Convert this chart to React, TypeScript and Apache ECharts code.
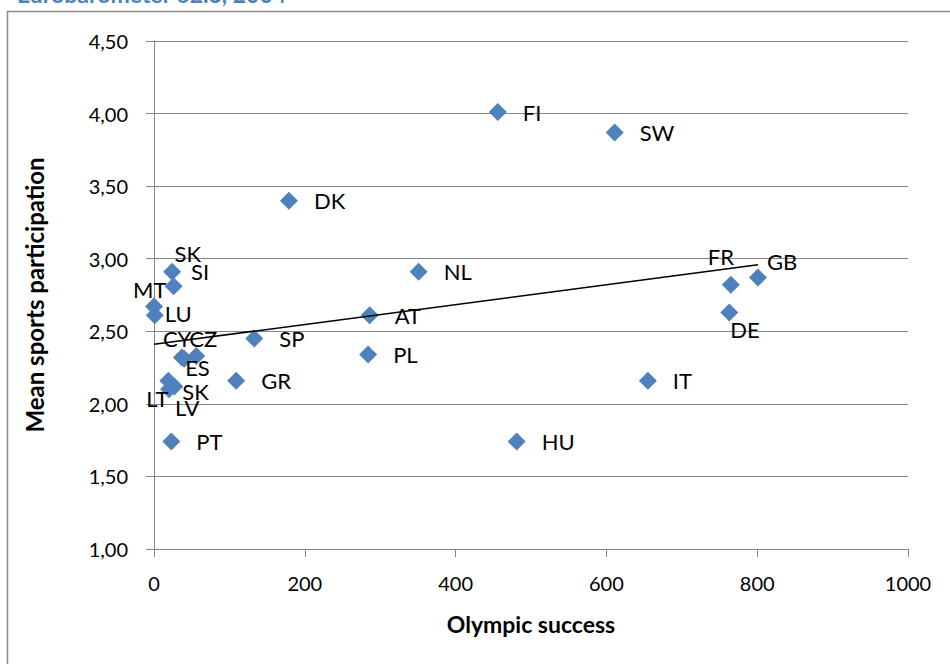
import React, { useEffect, useRef } from "react";
import * as echarts from "echarts";

// Country codes with Olympic success score and mean sports participation
const countries = [
  "FI", "SW", "DK", "NL", "AT", "PL", "HU", "IT", "FR", "GB", "DE", "SP",
  "GR", "PT", "SI", "SK", "MT", "LU", "CY", "CZ", "ES", "LT", "SK", "LV",
];
const olympicSuccess = [
  456, 611, 179, 351, 286, 284, 481, 655, 765, 801, 763, 133,
  109, 23, 24, 26, 0, 1, 37, 56, 40, 19, 27, 20,
];
const sportsParticipation = [
  4.01, 3.87, 3.4, 2.91, 2.61, 2.34, 1.74, 2.16, 2.82, 2.87, 2.63, 2.45,
  2.16, 1.74, 2.91, 2.81, 2.67, 2.61, 2.32, 2.33, 2.31, 2.16, 2.12, 2.1,
];

const xTicks = { min: 0, max: 1000, step: 200 };
const yTicks = { min: 1, max: 4.5, step: 0.5 };

const sourceNote = "Eurobarometer 62.3, 2004";
const xTitle = "Olympic success";
const yTitle = "Mean sports participation";

// Manual nudges for crowded labels (index -> [dx, dy] in px)
const labelNudges: Record<number, [number, number]> = {
  8: [-48, -28],
  9: [-16, -16],
  10: [-24, 17],
  14: [-6, 0],
  15: [-24, -33],
  16: [-46, -17],
  17: [-15, -2],
  18: [-44, -19],
  19: [-32, -17],
  20: [-24, 9],
  21: [-47, 18],
  22: [-17, 5],
  23: [-19, 18],
};

const FONT = "Lato, 'Open Sans', sans-serif";
const BLUE = "#4F81BD";
const GREY = "#868686";

function linearFit(xs: number[], ys: number[]) {
  const n = xs.length;
  const mx = xs.reduce((a, b) => a + b, 0) / n;
  const my = ys.reduce((a, b) => a + b, 0) / n;
  let sxy = 0;
  let sxx = 0;
  for (let i = 0; i < n; i++) {
    sxy += (xs[i] - mx) * (ys[i] - my);
    sxx += (xs[i] - mx) * (xs[i] - mx);
  }
  const slope = sxy / sxx;
  return { slope, intercept: my - slope * mx };
}

const fmtComma = (v: number) => v.toFixed(2).replace(".", ",");

export default function App() {
  const ref = useRef<HTMLDivElement>(null);

  useEffect(() => {
    if (!ref.current) return;
    const chart = echarts.init(ref.current, undefined, { renderer: "svg" });

    const points = countries.map((c, i) => {
      const nudge = labelNudges[i];
      return {
        name: c,
        value: [olympicSuccess[i], sportsParticipation[i]],
        label: nudge ? { offset: nudge } : undefined,
      };
    });

    const fit = linearFit(olympicSuccess, sportsParticipation);
    const x0 = Math.min(...olympicSuccess);
    const x1 = Math.max(...olympicSuccess);
    const trend = [
      [x0, fit.intercept + fit.slope * x0],
      [x1, fit.intercept + fit.slope * x1],
    ];

    chart.setOption({
      animation: false,
      textStyle: { fontFamily: FONT },
      grid: { left: 154, right: 42, top: 41, bottom: 115, containLabel: false },
      graphic: [
        {
          type: "rect",
          shape: { x: 7.5, y: 11.5, width: 1000, height: 1000 },
          style: { fill: "none", stroke: "#8c8c8c", lineWidth: 1.5 },
          silent: true,
        },
        {
          type: "text",
          x: 17,
          y: 5,
          style: {
            text: sourceNote,
            fill: BLUE,
            font: `bold 23px ${FONT}`,
            textVerticalAlign: "bottom",
          },
          silent: true,
        },
      ],
      xAxis: {
        type: "value",
        min: xTicks.min,
        max: xTicks.max,
        interval: xTicks.step,
        name: xTitle,
        nameLocation: "middle",
        nameGap: 63,
        nameTextStyle: { fontFamily: FONT, fontSize: 23, fontWeight: "bold", color: "#000" },
        axisLine: { show: true, onZero: false, lineStyle: { color: GREY, width: 1 } },
        axisTick: { show: true, length: 8, lineStyle: { color: GREY } },
        axisLabel: {
          color: "#000",
          fontSize: 20,
          fontFamily: FONT,
          margin: 24,
          formatter: (v: number) => String(v),
        },
        splitLine: { show: false },
      },
      yAxis: {
        type: "value",
        min: yTicks.min,
        max: yTicks.max,
        interval: yTicks.step,
        name: yTitle,
        nameLocation: "middle",
        nameGap: 108,
        nameRotate: 90,
        nameTextStyle: { fontFamily: FONT, fontSize: 24, fontWeight: "bold", color: "#000" },
        axisLine: { show: true, onZero: false, lineStyle: { color: GREY, width: 1 } },
        axisTick: { show: true, length: 8, lineStyle: { color: GREY } },
        axisLabel: {
          color: "#000",
          fontSize: 20,
          fontFamily: FONT,
          margin: 26,
          formatter: (v: number) => fmtComma(v),
        },
        splitLine: { show: true, lineStyle: { color: GREY, width: 1 } },
      },
      series: [
        {
          type: "scatter",
          symbol: "diamond",
          symbolSize: 18,
          itemStyle: { color: BLUE, opacity: 1 },
          data: points,
          label: {
            show: true,
            position: "right",
            distance: 16,
            formatter: (p: any) => p.name,
            color: "#000",
            fontSize: 22,
            fontFamily: FONT,
          },
          z: 2,
        },
        {
          type: "line",
          data: trend,
          symbol: "none",
          lineStyle: { color: "#000", width: 1.5 },
          z: 3,
          silent: true,
        },
      ],
    });

    return () => chart.dispose();
  }, []);

  return (
    <div
      ref={ref}
      style={{ position: "fixed", left: 0, top: 0, width: 950, height: 664, background: "#fff" }}
    />
  );
}
